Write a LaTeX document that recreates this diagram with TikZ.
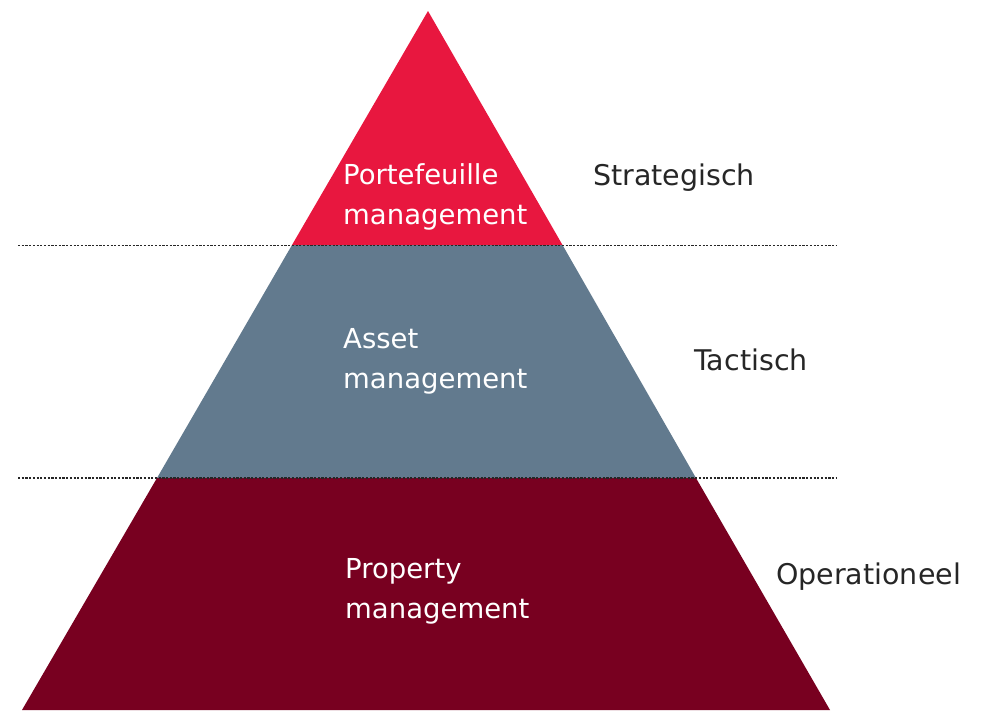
\documentclass[tikz,border=0pt]{standalone}
\usepackage{fontspec}
\setmainfont{DejaVu Sans}
\definecolor{topred}{HTML}{E8173F}
\definecolor{midblue}{HTML}{627A8E}
\definecolor{basered}{HTML}{780020}
\begin{document}
\begin{tikzpicture}[x=1pt,y=-1pt,
  inlabel/.style={text=white,font=\fontsize{27.5}{40}\selectfont,align=left,anchor=west,inner sep=0pt},
  outlabel/.style={text=black!85,font=\fontsize{28.5}{32}\selectfont,anchor=west,inner sep=0pt},
  sep/.style={draw=black!85,line width=1.8pt,dash pattern=on 2.2pt off 1.5pt}]
\useasboundingbox (0,0) rectangle (986,712);
% pyramid corners
\coordinate (apex) at (428,11);
\coordinate (l1) at (292,245);
\coordinate (r1) at (562.5,245);
\coordinate (l2) at (157,478);
\coordinate (r2) at (696,478);
\coordinate (l3) at (22,710);
\coordinate (r3) at (830,710);
\fill[topred] (apex) -- (r1) -- (l1) -- cycle;
\fill[midblue] (l1) -- (r1) -- (r2) -- (l2) -- cycle;
\fill[basered] (l2) -- (r2) -- (r3) -- (l3) -- cycle;
% separators
\coordinate (s1a) at (18,245.5);
\coordinate (s1b) at (836,245.5);
\coordinate (s2a) at (18,478);
\coordinate (s2b) at (836,478);
\draw[sep] (s1a) -- (s1b);
\draw[sep] (s2a) -- (s2b);
% labels inside
\node[inlabel] (pm) at (343,197) {Portefeuille\\management};
\node[inlabel] (am) at (343,361) {Asset\\management};
\node[inlabel] (prm) at (345,591) {Property\\management};
% labels right
\node[outlabel] (st) at (593,178) {Strategisch};
\node[outlabel] (ta) at (694,360) {Tactisch};
\node[outlabel] (op) at (776,577) {Operationeel};
\end{tikzpicture}
\end{document}
